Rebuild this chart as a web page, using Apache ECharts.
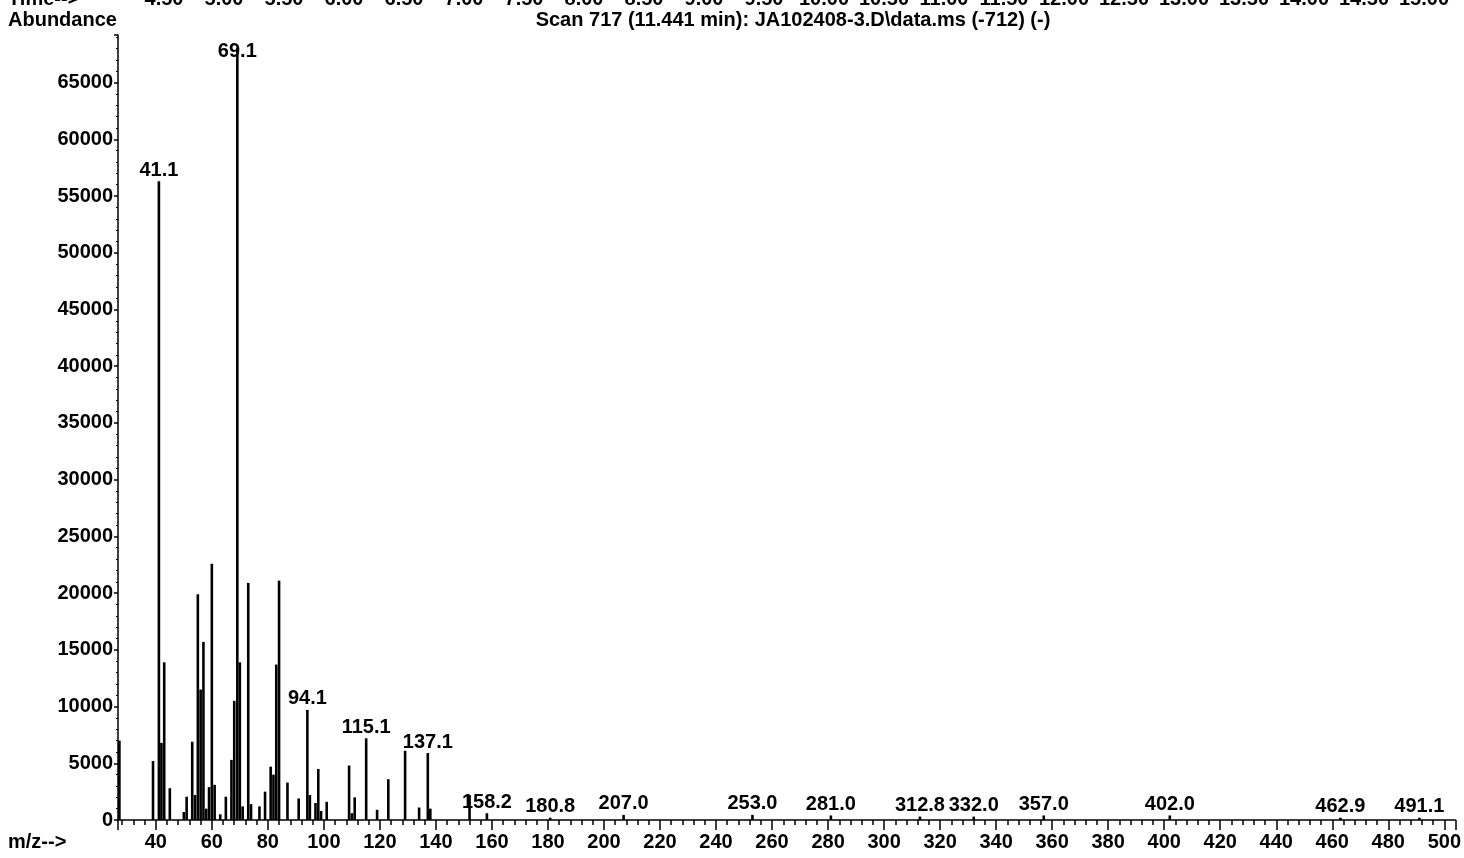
<!DOCTYPE html>
<html><head><meta charset="utf-8">
<script src="https://cdn.jsdelivr.net/npm/echarts@6/dist/echarts.min.js"></script>
<style>html,body{margin:0;padding:0;background:#fff;overflow:hidden}#chart{width:1464px;height:858px}</style>
</head><body><div id="chart"></div>
<script>
// m/z positions of the peaks
const mzValues = [27, 39, 41.1, 42, 43, 45, 50, 51, 53, 54, 55, 56, 57, 58, 59, 60, 61, 63, 65, 67, 68, 69.1, 70, 71, 73, 74, 77, 79, 81, 82, 83, 84, 87, 91, 94.1, 95, 97, 98, 99, 101, 109, 110, 111, 115.1, 119, 123, 129, 134, 137.1, 138, 152, 158.2, 180.8, 207.0, 253.0, 281.0, 312.8, 332.0, 357.0, 402.0, 462.9, 491.1];
// abundances of the peaks
const abundances = [7000, 5200, 56300, 6800, 13900, 2800, 700, 2050, 6900, 2200, 19900, 11500, 15700, 1000, 2900, 22600, 3100, 500, 2050, 5300, 10500, 68000, 13900, 1200, 20900, 1400, 1200, 2500, 4700, 4000, 13700, 21100, 3300, 1900, 9700, 2200, 1500, 4500, 800, 1600, 4800, 600, 2000, 7200, 900, 3600, 6100, 1100, 5900, 1000, 2200, 600, 200, 450, 450, 400, 300, 300, 400, 400, 200, 200];
// peaks that carry an m/z label
const labelledPeaks = [41.1, 69.1, 94.1, 115.1, 137.1, 158.2, 180.8, 207.0, 253.0, 281.0, 312.8, 332.0, 357.0, 402.0, 462.9, 491.1];
// retention-time labels along the (cut off) top strip
const timeTickLabels = ['4.50','5.00','5.50','6.00','6.50','7.00','7.50','8.00','8.50','9.00','9.50','10.00','10.50','11.00','11.50','12.00','12.50','13.00','13.50','14.00','14.50','15.00'];
const titleText = 'Scan 717 (11.441 min): JA102408-3.D\\data.ms (-712) (-)';

const FONT = "'Liberation Sans', Arial, sans-serif";
const BOLD = 'bold 20px ' + FONT;

const seriesData = mzValues.map((mz, i) => {
  const item = { value: [mz, abundances[i]] };
  if (labelledPeaks.includes(mz)) {
    item.label = { show: true };
    if (mz === 69.1) item.label.offset = [0, 14];
  }
  return item;
});

const graphics = [
  { type: 'text', x: 8, y: -1, style: { text: 'Time-->', font: BOLD, fill: '#000', align: 'left', verticalAlign: 'middle' } },
  { type: 'text', x: 8, y: 20, style: { text: 'Abundance', font: BOLD, fill: '#000', align: 'left', verticalAlign: 'middle' } },
  { type: 'text', x: 793, y: 20, style: { text: titleText, font: BOLD, fill: '#000', align: 'center', verticalAlign: 'middle' } },
  { type: 'text', x: 8, y: 842, style: { text: 'm/z-->', font: BOLD, fill: '#000', align: 'left', verticalAlign: 'middle' } }
];
timeTickLabels.forEach((t, i) => {
  graphics.push({ type: 'text', x: 164 + 60 * i, y: -1, style: { text: t, font: BOLD, fill: '#000', align: 'center', verticalAlign: 'middle' } });
});

const chart = echarts.init(document.getElementById('chart'), null, { renderer: 'canvas' });
chart.setOption({
  animation: false,
  backgroundColor: '#fff',
  grid: { left: 118, right: 6, top: 35, bottom: 38, containLabel: false },
  xAxis: {
    type: 'value', min: 26.5, max: 504, splitNumber: 24,
    axisLine: { show: true, onZero: false, lineStyle: { color: '#000', width: 1.5 } },
    axisTick: { show: true, length: 10, lineStyle: { color: '#000', width: 1.5 } },
    minorTick: { show: true, splitNumber: 5, length: 5, lineStyle: { color: '#000', width: 1.5 } },
    splitLine: { show: false },
    axisLabel: { show: true, margin: 12, showMinLabel: false, showMaxLabel: false, color: '#000', fontFamily: FONT, fontWeight: 'bold', fontSize: 20,
      formatter: v => (v % 20 === 0 ? String(v) : '') }
  },
  yAxis: {
    type: 'value', min: 0, max: 69200, interval: 5000,
    axisLine: { show: true, lineStyle: { color: '#000', width: 1.5 } },
    axisTick: { show: true, length: 4, lineStyle: { color: '#000', width: 1.5 } },
    minorTick: { show: true, splitNumber: 5, length: 2, lineStyle: { color: '#000' } },
    splitLine: { show: false },
    axisLabel: { show: true, margin: 5, showMaxLabel: false, color: '#000', fontFamily: FONT, fontWeight: 'bold', fontSize: 20,
      formatter: v => String(Math.round(v)) }
  },
  series: [{
    type: 'bar',
    data: seriesData,
    barWidth: 2.6,
    barGap: '-100%',
    itemStyle: { color: '#000' },
    label: { show: false, position: 'top', distance: 1, color: '#000', fontFamily: FONT, fontWeight: 'bold', fontSize: 20,
      formatter: p => p.value[0].toFixed(1) },
    emphasis: { disabled: true }
  }],
  graphic: graphics
});
</script>
</body></html>
